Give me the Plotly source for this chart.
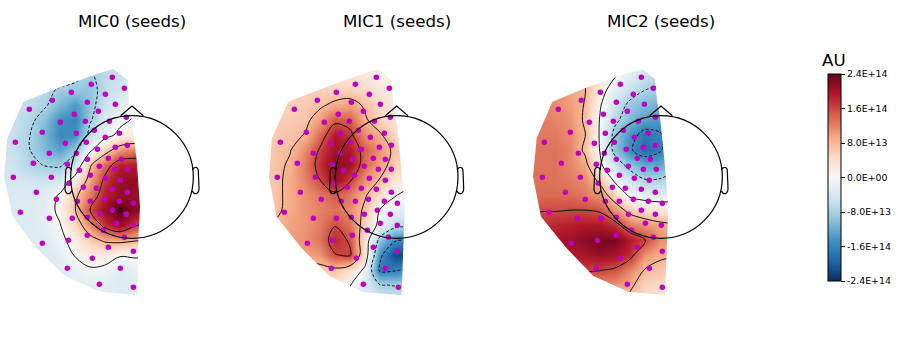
import numpy as np
import plotly.graph_objects as go

TITLES = ["MIC0 (seeds)", "MIC1 (seeds)", "MIC2 (seeds)"]
COLORBAR_TICKS = [2.4e14, 1.6e14, 8e13, 0, -8e13, -1.6e14, -2.4e14]
COLORBAR_LABELS = ["2.4E+14", "1.6E+14", "8.0E+13", "0.0E+00", "-8.0E+13", "-1.6E+14", "-2.4E+14"]
GRID_X = [0, 45, 90, 135, 180, 225, 270, 315, 360, 405, 450]
GRID_Y = [0, 45, 90, 135, 180, 225, 270, 315, 360, 405, 450, 495, 540, 585, 630, 675, 720]

# field values, in units of UNIT AU
Z0 = [
 [-.3,-.3,-.4,-.4,-.4,-.5,-.6,-.5,-.4,-.2,-.1],
 [-.3,-.3,-.4,-.5,-.5,-.6,-.75,-.55,-.5,-.2,-.1],
 [-.4,-.4,-.5,-.6,-.75,-.8,-.85,-.55,-.4,-.2,-.1],
 [-.45,-.45,-.55,-.65,-.95,-1.2,-.85,-.45,-.25,-.1,0],
 [-.45,-.5,-.6,-.9,-1.3,-1.38,-.75,-.35,-.1,.05,.1],
 [-.45,-.5,-.7,-1.0,-1.35,-1.3,-.55,-.15,.1,.2,.2],
 [-.45,-.5,-.7,-.95,-1.15,-.8,-.1,.5,.95,1.1,1.1],
 [-.4,-.45,-.62,-.72,-.75,-.45,.65,1.2,1.65,1.65,1.6],
 [-.35,-.38,-.42,-.45,-.4,.2,.85,1.5,1.85,1.85,1.8],
 [-.3,-.3,-.3,-.25,.05,.6,1.1,1.65,1.85,1.85,1.8],
 [-.3,-.3,-.3,-.2,.1,.68,1.4,1.85,2.14,1.95,1.8],
 [-.3,-.3,-.3,-.22,-.02,.45,1.0,1.55,1.85,1.45,1.3],
 [-.3,-.3,-.3,-.28,-.1,.15,.55,.78,.85,.75,.7],
 [-.3,-.3,-.3,-.3,-.2,.02,.2,.2,.03,.05,.03],
 [-.3,-.3,-.3,-.3,-.25,-.15,-.05,-.1,-.25,-.2,-.2],
 [-.3,-.3,-.3,-.3,-.3,-.25,-.2,-.22,-.3,-.25,-.2],
 [-.3,-.3,-.3,-.3,-.3,-.25,-.2,-.2,-.25,-.2,-.2],
]
Z1 = [
 [.3,.3,.3,.3,.3,.2,.2,.15,.1,.05,.05],
 [.4,.4,.4,.4,.35,.35,.3,.25,.15,.1,.05],
 [.5,.5,.5,.5,.5,.45,.5,.4,.25,.15,.1],
 [.5,.5,.5,.55,.63,.8,.85,.65,.4,.25,.15],
 [.55,.55,.55,.6,.9,1.3,1.25,.75,.5,.3,.2],
 [.55,.55,.6,.72,1.2,1.7,1.5,1.0,.75,.45,.3],
 [.55,.6,.68,1.0,1.45,1.8,1.7,1.25,.95,.6,.5],
 [.55,.6,.75,1.1,1.55,1.9,1.8,1.2,.85,.55,.4],
 [.55,.6,.8,1.05,1.4,1.85,1.45,.95,.68,.3,.1],
 [.55,.6,.8,.95,1.1,1.3,1.1,.75,.35,.02,-.1],
 [.55,.62,.8,.95,1.05,1.15,1.0,.62,-.02,-.15,-.35],
 [.7,.75,.85,.95,1.1,1.38,1.15,.5,-.15,-.55,-.6],
 [.8,.85,.9,.95,1.15,1.6,1.35,.3,-.85,-1.35,-1.45],
 [.7,.75,.8,.85,.95,1.38,1.46,.3,-1.3,-1.9,-1.9],
 [.5,.5,.5,.5,.55,.6,.4,-.1,-1.5,-1.45,-1.3],
 [.4,.4,.4,.4,.4,.35,.02,-.35,-.68,-.72,-.7],
 [.3,.3,.3,.3,.3,.2,-.1,-.3,-.4,-.45,-.45],
]
Z2 = [
 [.9,.9,.8,.7,.6,.3,.05,-.1,-.2,-.2,-.2],
 [.95,.95,.85,.8,.65,.35,.05,-.25,-.45,-.6,-.6],
 [1.0,1.0,.95,.85,.72,.2,-.25,-.5,-.7,-.75,-.8],
 [1.05,1.05,1.0,.9,.68,.04,-.45,-.8,-.95,-1.0,-.9],
 [1.1,1.1,1.05,.95,.65,-.03,-.6,-.95,-1.15,-1.2,-1.1],
 [1.1,1.1,1.1,1.0,.72,-.05,-.85,-1.25,-1.55,-1.45,-1.1],
 [1.1,1.15,1.15,1.05,.62,-.02,-.85,-1.35,-1.65,-1.45,-1.1],
 [1.15,1.15,1.15,1.05,.85,.08,-.45,-.85,-1.1,-1.1,-.85],
 [1.15,1.15,1.15,1.1,1.0,.6,-.1,-.42,-.68,-.66,-.5],
 [1.15,1.2,1.2,1.2,1.1,.95,.45,-.1,-.2,-.25,-.2],
 [1.3,1.38,1.38,1.4,1.4,1.35,.95,.55,.35,.3,.25],
 [1.45,1.55,1.6,1.65,1.7,1.7,1.55,1.1,.95,.8,.75],
 [1.45,1.6,1.75,1.8,1.9,2.0,2.0,1.7,1.45,1.0,.85],
 [1.4,1.55,1.65,1.7,1.75,1.85,1.75,1.55,.95,.76,.72],
 [1.3,1.4,1.45,1.5,1.45,1.42,1.35,1.05,.68,.6,.55],
 [1.2,1.25,1.25,1.2,1.15,1.0,.95,.78,.5,.4,.35],
 [1.1,1.1,1.1,1.05,1.0,.9,.85,.6,.4,.3,.25],
]

SENS0 = [(337,52),(274,73),(373,85),(214,97),(316,103),(157,121),(262,127),(346,133),(88,148),(295,154),(223,163),(181,187),(256,184),(328,184),(379,172),(283,211),(127,217),(229,220),(358,220),(316,232),(46,247),(196,250),(259,247),(382,256),(346,262),(292,268),(148,280),(229,280),(262,298),(325,295),(364,298),(100,310),(202,313),(298,319),(238,331),(343,328),(382,328),(40,352),(154,352),(271,346),(316,355),(361,361),(207,370),(250,382),(289,385),(337,388),(109,397),(382,397),(169,418),(232,424),(271,424),(313,418),(358,424),(400,430),(61,457),(337,451),(379,463),(301,463),(262,472),(148,475),(217,475),(349,490),(400,496),(310,511),(262,526),(373,532),(205,541),(127,550),(325,562),(400,574),(277,595),(202,625),(361,625),(298,673),(400,682)]
SENS1 = [(349,52),(286,73),(388,85),(229,97),(328,103),(172,121),(274,127),(361,133),(103,148),(310,154),(235,163),(193,187),(268,184),(343,184),(391,172),(295,211),(139,217),(241,220),(373,220),(331,232),(61,247),(211,250),(271,247),(394,256),(358,262),(304,268),(160,280),(241,280),(277,298),(340,295),(376,298),(112,310),(217,313),(313,319),(250,331),(355,328),(394,328),(52,352),(166,352),(283,346),(328,355),(376,361),(223,370),(262,382),(304,385),(349,388),(121,397),(394,397),(184,418),(244,424),(286,424),(325,418),(373,424),(412,430),(73,457),(352,451),(391,463),(313,463),(274,472),(160,475),(229,475),(361,490),(412,496),(322,511),(277,526),(385,532),(217,541),(142,550),(340,562),(412,574),(289,595),(214,625),(376,625),(310,673),(415,682)]
SENS2 = [(349,52),(286,73),(385,85),(226,97),(325,103),(169,121),(274,127),(358,133),(100,148),(307,154),(235,163),(193,187),(265,184),(340,184),(391,172),(295,211),(136,217),(241,220),(370,220),(328,232),(58,247),(208,250),(268,247),(391,256),(355,262),(304,268),(160,280),(238,280),(274,298),(337,295),(376,298),(109,310),(214,313),(310,319),(247,331),(355,328),(394,328),(52,352),(166,352),(283,346),(328,355),(373,361),(220,370),(262,382),(301,385),(349,388),(121,397),(391,397),(181,418),(241,424),(283,424),(325,418),(370,424),(412,430),(73,457),(349,451),(391,463),(310,463),(274,472),(157,475),(229,475),(361,490),(409,496),(319,511),(274,526),(385,532),(217,541),(139,550),(337,562),(412,574),(286,595),(214,625),(373,625),(307,673),(412,682)]

HULL0 = [(340,27),(384,60),(386,120),(395,180),(410,300),(420,440),(415,540),(412,705),(300,695),(195,648),(110,565),(38,470),(12,350),(22,235),(70,125),(165,88),(290,42)]
HULL1 = [(355,27),(392,58),(400,130),(412,200),(425,340),(434,440),(425,705),(310,697),(208,648),(125,565),(50,470),(27,350),(36,235),(85,125),(180,88),(300,45)]
HULL2 = [(352,27),(390,58),(396,120),(405,170),(420,320),(430,440),(420,705),(310,695),(205,648),(125,565),(48,470),(24,350),(35,235),(82,125),(180,85),(290,45)]

HEAD_CX = [396, 410, 408]
PANEL_LEFT = [0, 260, 525]
HEAD_CY, HEAD_R = 351, 184

RDBU = [[0,"#053061"],[.1,"#2166ac"],[.2,"#4393c3"],[.3,"#92c5de"],[.4,"#d1e5f0"],[.5,"#f7f7f7"],
        [.6,"#fddbc7"],[.7,"#f4a582"],[.8,"#d6604d"],[.9,"#b2182b"],[1,"#67001f"]]
W, H = 900, 355
UNIT = 1.14e14
LEVEL = 0.8e14
BLACK = [[0,"black"],[1,"black"]]
LW = 0.9

fig = go.Figure()
layout_axes, shapes, annots = {}, [], []

for i, (Z, S, hull, cx, left, title) in enumerate(zip(
        (Z0, Z1, Z2), (SENS0, SENS1, SENS2), (HULL0, HULL1, HULL2), HEAD_CX, PANEL_LEFT, TITLES)):
    n = "" if i == 0 else str(i + 1)
    xa, ya = f"x{n}", f"y{n}"
    z = np.array(Z) * UNIT
    common = dict(x=GRID_X, y=GRID_Y, z=z, xaxis=xa, yaxis=ya, hoverinfo="skip")
    fig.add_trace(go.Heatmap(**common, colorscale=RDBU, zmin=-2.4e14, zmax=2.4e14, zsmooth="best",
        showscale=(i == 0),
        colorbar=dict(tickmode="array", tickvals=COLORBAR_TICKS, ticktext=COLORBAR_LABELS,
                      thickness=13, thicknessmode="pixels", len=207, lenmode="pixels",
                      x=828/W, xanchor="left", y=1-74/H, yanchor="top", xpad=0, ypad=0,
                      outlinecolor="black", outlinewidth=1, ticks="outside", ticklen=4,
                      tickwidth=1, tickcolor="black",
                      tickfont=dict(family="DejaVu Sans", size=9.4, color="black"))))
    fig.add_trace(go.Contour(**common, showscale=False, colorscale=BLACK, autocontour=False,
        contours=dict(coloring="lines", start=0, end=3*LEVEL, size=LEVEL),
        line=dict(width=LW, smoothing=1, dash="solid")))
    fig.add_trace(go.Contour(**common, showscale=False, colorscale=BLACK, autocontour=False,
        contours=dict(coloring="lines", start=-3*LEVEL, end=-LEVEL, size=LEVEL),
        line=dict(width=LW, smoothing=1, dash="3px,2px")))
    # white mask outside the sensor hull (hull wound against the rectangle, leaving a hole)
    hx, hy = zip(*hull[::-1])
    mx = [-30, 660, 660, -30, -30] + list(hx) + [hx[0], -30]
    my = [-30, -30, 750, 750, -30] + list(hy) + [hy[0], -30]
    fig.add_trace(go.Scatter(x=mx, y=my, xaxis=xa, yaxis=ya, mode="lines", fill="toself",
        fillcolor="white", line=dict(width=0, color="white"), hoverinfo="skip", showlegend=False))
    sx, sy = zip(*S)
    fig.add_trace(go.Scatter(x=sx, y=sy, xaxis=xa, yaxis=ya, mode="markers",
        marker=dict(size=5.5, color="#c000c0"), hoverinfo="skip", showlegend=False))

    dom_x = [left/W, (left+210)/W]
    dom_y = [1-300/H, 1-60/H]
    layout_axes[f"xaxis{n}"] = dict(domain=dom_x, range=[0, 630], visible=False, fixedrange=True, anchor=ya)
    layout_axes[f"yaxis{n}"] = dict(domain=dom_y, range=[720, 0], visible=False, fixedrange=True, anchor=xa)

    line = dict(color="black", width=1.2)
    shapes.append(dict(type="circle", xref=xa, yref=ya, x0=cx-HEAD_R, x1=cx+HEAD_R,
                       y0=HEAD_CY-HEAD_R, y1=HEAD_CY+HEAD_R, line=line, layer="above"))
    shapes.append(dict(type="path", xref=xa, yref=ya, line=line, layer="above",
                       path=f"M {cx-34} 167 L {cx} 138 L {cx+34} 167"))
    for s in (-1, 1):
        e = lambda d: cx + s * d
        shapes.append(dict(type="path", xref=xa, yref=ya, line=line, layer="above",
            path=(f"M {e(181)} 330 C {e(186)} 320, {e(199)} 318, {e(199)} 335 "
                  f"L {e(201)} 385 C {e(201)} 405, {e(186)} 405, {e(181)} 392")))
    annots.append(dict(text=title, x=(left + cx/3)/W, y=1-21/H, xref="paper", yref="paper",
                       showarrow=False, xanchor="center", yanchor="middle",
                       font=dict(family="DejaVu Sans", size=16.67, color="black")))

annots.append(dict(text="AU", x=833.5/W, y=1-60/H, xref="paper", yref="paper", showarrow=False,
                   xanchor="center", yanchor="middle",
                   font=dict(family="DejaVu Sans", size=16.67, color="black")))

fig.update_layout(width=W, height=H, margin=dict(l=0, r=0, t=0, b=0), paper_bgcolor="white",
                  plot_bgcolor="white", showlegend=False, shapes=shapes, annotations=annots,
                  **layout_axes)
fig.write_html("out.html", config={"displayModeBar": False},
               post_script="document.body.style.margin='0';document.documentElement.style.overflow='hidden';")
